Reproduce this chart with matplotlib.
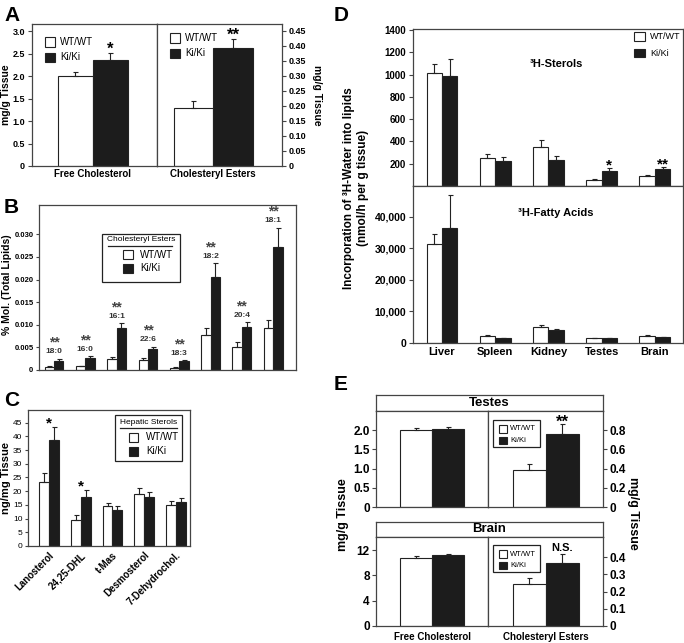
import numpy as np
import matplotlib
matplotlib.use('Agg')
import matplotlib.pyplot as plt
from matplotlib.patches import Rectangle
from matplotlib.lines import Line2D

plt.rcParams['font.family'] = ['Liberation Sans', 'DejaVu Sans']
plt.rcParams['font.weight'] = 'bold'
plt.rcParams['axes.edgecolor'] = '#444444'
plt.rcParams['axes.linewidth'] = 0.9
plt.rcParams['xtick.color'] = '#444444'
plt.rcParams['ytick.color'] = '#444444'
plt.rcParams['xtick.labelcolor'] = 'black'
plt.rcParams['ytick.labelcolor'] = 'black'

# ---- data ----
# A: liver cholesterol
a_free = [2.01, 2.36]
a_free_err = [0.08, 0.16]
a_ester = [0.193, 0.393]
a_ester_err = [0.024, 0.030]

# B: cholesteryl ester species
b_labels = ['18:0', '16:0', '16:1', '22:6', '18:3', '18:2', '20:4', '18:1']
b_wt = [0.0007, 0.0008, 0.0025, 0.0023, 0.0005, 0.0078, 0.0051, 0.0093]
b_wt_err = [0.0001, 0.0001, 0.0003, 0.0003, 0.0001, 0.0015, 0.0011, 0.0017]
b_ki = [0.0021, 0.0027, 0.0092, 0.0047, 0.0019, 0.0205, 0.0095, 0.0271]
b_ki_err = [0.0004, 0.0003, 0.0011, 0.0004, 0.0003, 0.0031, 0.0011, 0.0044]

# C: hepatic sterols
c_labels = ['Lanosterol', '24,25-DHL', 't-Mas', 'Desmosterol', '7-Dehydrochol.']
c_wt = [23.5, 9.4, 14.6, 19.0, 15.0]
c_wt_err = [3.1, 1.9, 1.0, 2.1, 1.4]
c_ki = [38.5, 17.8, 13.1, 18.0, 16.2]
c_ki_err = [5.0, 2.7, 1.5, 1.6, 1.2]
c_marks = ['*', '*', '', '', '']

# D: 3H-water incorporation
d_tissues = ['Liver', 'Spleen', 'Kidney', 'Testes', 'Brain']
d_ster_wt = [1011, 248, 347, 54, 92]
d_ster_wt_err = [89, 36, 65, 9, 9]
d_ster_ki = [986, 224, 233, 137, 150]
d_ster_ki_err = [159, 33, 39, 22, 18]
d_marks = ['', '', '', '*', '**']
d_fa_wt = [31300, 2150, 5150, 1600, 2150]
d_fa_wt_err = [3200, 400, 550, 100, 350]
d_fa_ki = [36350, 1500, 4200, 1500, 1900]
d_fa_ki_err = [10500, 150, 200, 150, 100]

# E: testes and brain
e_test_free = [2.01, 2.03]
e_test_free_err = [0.06, 0.05]
e_test_ester = [0.388, 0.758]
e_test_ester_err = [0.059, 0.104]
e_brain_free = [10.8, 11.2]
e_brain_free_err = [0.3, 0.2]
e_brain_ester = [0.243, 0.368]
e_brain_ester_err = [0.034, 0.049]

W, H = 684, 643
fig = plt.figure(figsize=(W / 100, H / 100), dpi=100)
BLACK = '#1c1c1c'
EDGE = '#222222'


def px_axes(x0, y0, x1, y1):
    return fig.add_axes([x0 / W, 1 - y1 / H, (x1 - x0) / W, (y1 - y0) / H])


def fbox(x0, y0, x1, y1, fc, lw=0.8):
    fig.add_artist(Rectangle((x0 / W, 1 - y1 / H), (x1 - x0) / W, (y1 - y0) / H,
                             transform=fig.transFigure, fc=fc, ec=EDGE, lw=lw))


def fline(x0, x1, y):
    fig.add_artist(Line2D([x0 / W, x1 / W], [1 - y / H, 1 - y / H],
                          transform=fig.transFigure, color=EDGE, lw=0.9))


def ftext(x, y, s, **kw):
    fig.text(x / W, 1 - y / H, s, **kw)


def err(ax, xs, vals, errs):
    ax.errorbar(xs, vals, yerr=[np.zeros(len(vals)), errs], fmt='none',
                ecolor=EDGE, elinewidth=0.8, capsize=1.8, capthick=0.8)


def pairs(ax, x, wt, wt_err, ki, ki_err, width):
    x = np.asarray(x, dtype=float)
    ax.bar(x - width / 2, wt, width, color='white', edgecolor=EDGE, lw=0.8)
    ax.bar(x + width / 2, ki, width, color=BLACK, edgecolor=EDGE, lw=0.8)
    err(ax, x - width / 2, wt, wt_err)
    err(ax, x + width / 2, ki, ki_err)


def fmt0(v, d):
    return '0' if v == 0 else ('{:.%df}' % d).format(v)


def star(ax, x, y, s, size=11, dy=1):
    ax.annotate(s, (x, y), xytext=(0, dy), textcoords='offset points',
                ha='center', va='bottom', fontsize=size, fontweight='bold')


# ---------------- Panel A ----------------
axA1 = px_axes(32, 24, 157, 166)
axA1.bar([0, 1], a_free, 1, color=['white', BLACK], edgecolor=EDGE, lw=0.8)
err(axA1, [0, 1], a_free, a_free_err)
axA1.set_xlim(-1.24, 2.33)
axA1.set_ylim(0, 3.16)
yt = np.arange(0, 3.01, 0.5)
axA1.set_yticks(yt, [fmt0(v, 1) for v in yt], fontsize=6.5)
axA1.set_xticks([0.5], ['Free Cholesterol'], fontsize=7)
axA1.tick_params(axis='x', length=0, pad=2)
axA1.tick_params(axis='y', length=3, pad=2)
star(axA1, 1, a_free[1] + a_free_err[1], '*', size=12, dy=-3)
ftext(6, 95, 'mg/g Tissue', rotation=90, ha='center', va='center', fontsize=7.5)

axA2 = px_axes(157, 24, 282, 166)
axA2.bar([0, 1], a_ester, 1, color=['white', BLACK], edgecolor=EDGE, lw=0.8)
err(axA2, [0, 1], a_ester, a_ester_err)
axA2.set_xlim(-0.92, 2.24)
axA2.set_ylim(0, 0.473)
yt = np.arange(0, 0.451, 0.05)
axA2.yaxis.tick_right()
axA2.set_yticks(yt, [fmt0(v, 2) for v in yt], fontsize=6.5)
axA2.set_xticks([0.5], ['Cholesteryl Esters'], fontsize=7)
axA2.tick_params(axis='x', length=0, pad=2)
axA2.tick_params(axis='y', length=3, pad=2)
star(axA2, 1.0, a_ester[1] + a_ester_err[1], '**', size=12, dy=-3)
ftext(317, 95, 'mg/g Tissue', rotation=270, ha='center', va='center', fontsize=7.5)

for (sx, ty) in [(45, 37), (170, 33)]:
    fbox(sx, ty, sx + 10, ty + 10, 'white')
    fbox(sx, ty + 16, sx + 10, ty + 25, BLACK)
    ftext(sx + 15, ty + 5, 'WT/WT', fontsize=7, fontweight='normal', va='center')
    ftext(sx + 15, ty + 20.5, 'Ki/Ki', fontsize=7, fontweight='normal', va='center')

# ---------------- Panel B ----------------
axB = px_axes(39, 205, 296, 370)
xb = np.arange(len(b_labels))
pairs(axB, xb, b_wt, b_wt_err, b_ki, b_ki_err, 0.3)
axB.set_xlim(-0.48, 7.73)
axB.set_ylim(0, 0.0365)
yt = np.arange(0, 0.0301, 0.005)
axB.set_yticks(yt, [fmt0(v, 3) for v in yt], fontsize=5.5)
axB.set_xticks([])
axB.tick_params(axis='y', length=2.5, pad=1.5)
for i, lab in enumerate(b_labels):
    top = max(b_wt[i] + b_wt_err[i], b_ki[i] + b_ki_err[i])
    axB.annotate(lab, (i, top), xytext=(0, 2.5), textcoords='offset points',
                 ha='center', va='bottom', fontsize=6, color='#333333')
    axB.annotate('**', (i, top), xytext=(0, 6.5), textcoords='offset points',
                 ha='center', va='bottom', fontsize=10, color='#444444')
ftext(7, 285, '% Mol. (Total Lipids)', rotation=90, ha='center', va='center', fontsize=7.5)

fbox(102, 234, 180, 282, 'white', lw=0.9)
ftext(141, 240, 'Cholesteryl Esters', fontsize=6, fontweight='normal', ha='center', va='center')
fline(108, 172, 246)
fbox(123, 250, 133, 259, 'white')
fbox(123, 264, 133, 273, BLACK)
ftext(140, 254.5, 'WT/WT', fontsize=7, fontweight='normal', va='center')
ftext(140, 268.5, 'Ki/Ki', fontsize=7, fontweight='normal', va='center')

# ---------------- Panel C ----------------
axC = px_axes(28, 410, 190, 546)
xc = np.arange(len(c_labels))
pairs(axC, xc, c_wt, c_wt_err, c_ki, c_ki_err, 0.31)
axC.set_xlim(-0.66, 4.44)
axC.set_ylim(0, 49.6)
yt = np.arange(0, 46, 5)
axC.set_yticks(yt, [str(v) for v in yt], fontsize=6, fontweight='normal')
axC.set_xticks(xc, c_labels, fontsize=7, rotation=45, ha='right', rotation_mode='anchor')
axC.tick_params(axis='x', length=0, pad=3)
axC.tick_params(axis='y', length=2.5, pad=1.5)
for i, m in enumerate(c_marks):
    if m:
        star(axC, i, c_ki[i] + c_ki_err[i], m, size=11, dy=-3)
ftext(6, 478, 'ng/mg Tissue', rotation=90, ha='center', va='center', fontsize=8)

fbox(115, 415, 182, 461, 'white', lw=0.9)
ftext(148.5, 422, 'Hepatic Sterols', fontsize=6, fontweight='normal', ha='center', va='center')
fline(120, 177, 427.5)
fbox(129, 433, 138, 442, 'white')
fbox(129, 447, 138, 456, BLACK)
ftext(146, 437.5, 'WT/WT', fontsize=7, fontweight='normal', va='center')
ftext(146, 451.5, 'Ki/Ki', fontsize=7, fontweight='normal', va='center')

# ---------------- Panel D ----------------
xd = np.arange(len(d_tissues))
axD1 = px_axes(413, 29, 683, 186)
pairs(axD1, xd, d_ster_wt, d_ster_wt_err, d_ster_ki, d_ster_ki_err, 0.29)
axD1.set_xlim(-0.545, 4.53)
axD1.set_ylim(0, 1410)
yt = np.arange(200, 1401, 200)
axD1.set_yticks(yt, [str(v) for v in yt], fontsize=7)
axD1.set_xticks([])
axD1.tick_params(axis='y', length=3, pad=2)
axD1.text(0.53, 0.78, '³H-Sterols', transform=axD1.transAxes, ha='center',
          va='center', fontsize=8)
for i, m in enumerate(d_marks):
    if m:
        star(axD1, i + 0.145, d_ster_ki[i] + d_ster_ki_err[i], m, size=11, dy=-3)

axD2 = px_axes(413, 186, 683, 343)
pairs(axD2, xd, d_fa_wt, d_fa_wt_err, d_fa_ki, d_fa_ki_err, 0.29)
axD2.set_xlim(-0.545, 4.53)
axD2.set_ylim(0, 49800)
yt = np.arange(0, 40001, 10000)
axD2.set_yticks(yt, ['{:,}'.format(v) for v in yt], fontsize=7.5)
axD2.set_xticks(xd, d_tissues, fontsize=8)
axD2.tick_params(axis='x', length=0, pad=3)
axD2.tick_params(axis='y', length=3, pad=2)
axD2.text(0.53, 0.83, '³H-Fatty Acids', transform=axD2.transAxes, ha='center',
          va='center', fontsize=8)

ftext(356, 188, 'Incorporation of ³H-Water into lipids\n(nmol/h per g tissue)',
      rotation=90, ha='center', va='center', fontsize=8.5, linespacing=1.15)

fbox(634, 32, 645, 41, 'white')
fbox(634, 49, 645, 57, BLACK)
ftext(650, 36.5, 'WT/WT', fontsize=6.5, fontweight='normal', va='center')
ftext(650, 53, 'Ki/Ki', fontsize=6.5, fontweight='normal', va='center')

# ---------------- Panel E ----------------
def header(y0, y1, title):
    hx = px_axes(376, y0, 603, y1)
    hx.set_xticks([])
    hx.set_yticks([])
    hx.text(0.5, 0.5, title, transform=hx.transAxes, ha='center', va='center', fontsize=9.5)


def e_pair(box, vals, errs, ylim, ticks, dec, right=False, xlab=None):
    ax = px_axes(*box)
    ax.bar([0, 1], vals, 1, color=['white', BLACK], edgecolor=EDGE, lw=0.8)
    err(ax, [0, 1], vals, errs)
    ax.set_xlim(-1.25, 2.24)
    ax.set_ylim(*ylim)
    if right:
        ax.yaxis.tick_right()
    ax.set_yticks(ticks, [fmt0(v, dec) for v in ticks], fontsize=8.5)
    ax.tick_params(axis='y', length=3, pad=1.5)
    if xlab:
        ax.set_xticks([0.5], [xlab], fontsize=7)
        ax.tick_params(axis='x', length=0, pad=4)
    else:
        ax.set_xticks([])
    return ax


header(395, 411, 'Testes')
e_pair((376, 411, 488, 507), e_test_free, e_test_free_err, (0, 2.5),
       np.arange(0, 2.01, 0.5), 1)
axE2 = e_pair((488, 411, 603, 507), e_test_ester, e_test_ester_err, (0, 1.0),
              np.arange(0, 0.81, 0.2), 1, right=True)
star(axE2, 1, e_test_ester[1] + e_test_ester_err[1], '**', size=12, dy=-4)

header(522, 537, 'Brain')
e_pair((376, 537, 488, 626), e_brain_free, e_brain_free_err, (0, 14.07),
       np.arange(0, 13, 4), 0, xlab='Free Cholesterol')
axE4 = e_pair((488, 537, 603, 626), e_brain_ester, e_brain_ester_err, (0, 0.517),
              np.arange(0, 0.41, 0.1), 1, right=True, xlab='Cholesteryl Esters')
axE4.annotate('N.S.', (1, e_brain_ester[1] + e_brain_ester_err[1]), xytext=(0, 1),
              textcoords='offset points', ha='center', va='bottom', fontsize=8)

ftext(343, 515, 'mg/g Tissue', rotation=90, ha='center', va='center', fontsize=9)
ftext(633, 513, 'mg/g Tissue', rotation=270, ha='center', va='center', fontsize=9)

for ty in [420, 545]:
    fbox(493, ty, 540, ty + 27, 'white', lw=0.9)
    fbox(499, ty + 5, 507, ty + 13, 'white')
    fbox(499, ty + 17, 507, ty + 24, BLACK)
    ftext(510, ty + 9, 'WT/WT', fontsize=5.5, fontweight='normal', va='center')
    ftext(510, ty + 20.5, 'Ki/Ki', fontsize=5.5, fontweight='normal', va='center')

# panel letters
for lx, ly, s in [(4, 6, 'A'), (4, 198, 'B'), (4, 391, 'C'), (334, 6, 'D'), (334, 375, 'E')]:
    ftext(lx, ly, s, fontsize=15, va='top', ha='left')

fig.savefig('out.png', dpi=100)
